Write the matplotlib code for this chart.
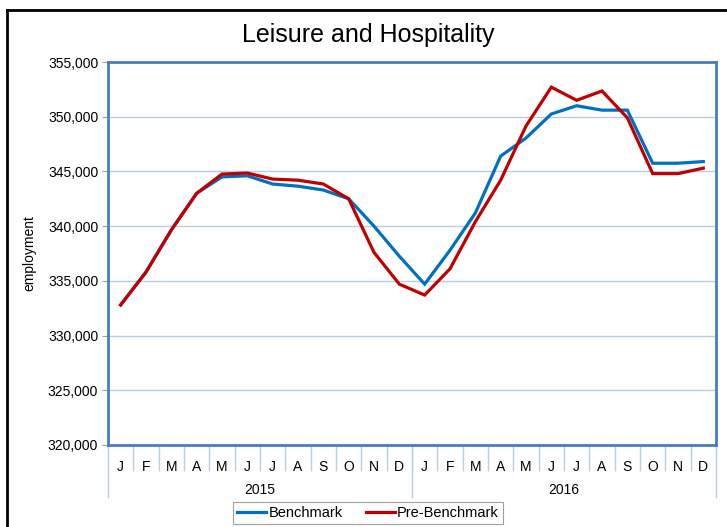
import matplotlib.pyplot as plt
from matplotlib.lines import Line2D
from matplotlib.ticker import FuncFormatter

plt.rcParams['font.family'] = ['Liberation Sans', 'DejaVu Sans']

months = ["J", "F", "M", "A", "M", "J", "J", "A", "S", "O", "N", "D"] * 2
years = ["2015", "2016"]

benchmark = [332800, 335800, 339650, 343000, 344500, 344600, 343850, 343650,
             343300, 342500, 340000, 337250,
             334700, 337800, 341200, 346400, 348050, 350250, 351000, 350600,
             350600, 345750, 345750, 345900]
pre_benchmark = [332800, 335800, 339650, 343000, 344760, 344850, 344300, 344200,
                 343850, 342500, 337600, 334700,
                 333700, 336100, 340400, 344200, 349150, 352700, 351500, 352350,
                 349900, 344800, 344800, 345300]

frame_col = "#4A7EBB"
grid_col = "#B9CDE5"

fig = plt.figure(figsize=(7.27, 5.27), dpi=100)
ax = fig.add_axes([108 / 727, 1 - 445 / 527, 608 / 727, 383 / 527])

x = range(len(months))
ax.plot(x, benchmark, color="#0070C0", lw=2.3, label="Benchmark", solid_joinstyle="miter")
ax.plot(x, pre_benchmark, color="#C00000", lw=2.3, label="Pre-Benchmark", solid_joinstyle="miter")

ax.set_xlim(-0.5, 23.5)
ax.set_ylim(320000, 355000)
ax.set_yticks(range(320000, 355001, 5000))
ax.yaxis.set_major_formatter(FuncFormatter(lambda v, p: f"{int(v):,}"))
ax.grid(axis="y", color=grid_col, lw=1)
ax.set_axisbelow(True)
for s in ax.spines.values():
    s.set_color(frame_col)
    s.set_linewidth(2)
ax.tick_params(axis="y", length=4, color="#A0A0A0", labelsize=10, pad=3)

# month labels and separators
ax.set_xticks(list(x))
ax.set_xticklabels(months, fontsize=10)
ax.tick_params(axis="x", length=0, pad=11)
ax.set_xticks([i - 0.5 for i in range(1, 24)], minor=True)
ax.tick_params(axis="x", which="minor", length=19, color=grid_col, width=1)

# year labels and group separators
trans = ax.get_xaxis_transform()
for xs in (-0.5, 11.5, 23.5):
    ax.add_line(Line2D([xs, xs], [0, -0.137], transform=trans, color=grid_col,
                       lw=1, clip_on=False))
for i, yr in enumerate(years):
    ax.text(5.5 + 12 * i, -0.118, yr, transform=trans, ha="center", va="center", fontsize=10)

ax.set_ylabel("employment", fontsize=10, labelpad=8)
fig.text(368 / 727, 1 - 35 / 527, "Leisure and Hospitality", ha="center", va="center", fontsize=18)

leg = fig.legend(loc="center", bbox_to_anchor=(368 / 727, 1 - 513 / 527), ncol=2,
                 fontsize=10.5, frameon=True, fancybox=False, handlelength=2.0,
                 handletextpad=0.15, columnspacing=1.6, borderpad=0.3)
leg.get_frame().set_edgecolor("#888888")
leg.get_frame().set_linewidth(0.8)

# outer chart frame
fig.add_artist(Line2D([7 / 727, 7 / 727], [0, 1 - 10 / 527], color="black", lw=2))
fig.add_artist(Line2D([7 / 727, 1], [1 - 10 / 527, 1 - 10 / 527], color="black", lw=2))

fig.savefig("out.png", dpi=100)
